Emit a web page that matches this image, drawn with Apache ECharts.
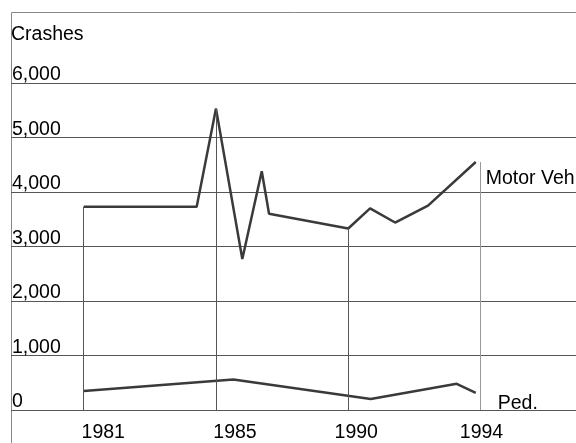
<!DOCTYPE html>
<html>
<head>
<meta charset="utf-8">
<script src="https://cdn.jsdelivr.net/npm/echarts@6/dist/echarts.min.js"></script>
<style>
  html, body { margin: 0; padding: 0; background: #fff; }
  #chart { width: 576px; height: 443px; }
</style>
</head>
<body>
<div id="chart"></div>
<script>
// Tick labels; x positions below are in tick units (0 = 1981, 1 = 1985, 2 = 1990, 3 = 1994)
const years = ['1981', '1985', '1990', '1994'];

// Motor vehicle crashes
const motorX = [0, 0.854, 1.0, 1.199, 1.346, 1.401, 2.0, 2.165, 2.354, 2.603, 2.964];
const motorY = [3730, 3730, 5530, 2770, 4380, 3600, 3330, 3700, 3440, 3750, 4550];

// Pedestrian crashes
const pedX = [0, 1.131, 2.17, 2.82, 2.964];
const pedY = [350, 560, 200, 480, 315];

const font = "'Liberation Sans', Arial, sans-serif";
const fs = 19.5;

var chartDom = document.getElementById('chart');
var myChart = echarts.init(chartDom);
var option;

// drop lines from the motor line down to 0 at each labelled year
var drops = years.map(function (y, i) {
  var best = 0;
  motorX.forEach(function (x, j) {
    if (Math.abs(x - i) < Math.abs(motorX[best] - i)) best = j;
  });
  return [
    { coord: [i, motorY[best]], lineStyle: { color: i == 3 ? '#999' : '#555' } },
    { coord: [i, 0] }
  ];
});

// nudge each year label a bit to the right, like the original
const labelShift = [39, 38, 16, 2];

option = {
  animation: false,
  grid: {
    left: 11,
    top: 83,
    bottom: 33,
    width: 574,
    containLabel: false,
    outerBoundsMode: 'none'
  },
  graphic: [
    {
      type: 'rect',
      shape: { x: 11.5, y: 12.5, width: 700, height: 500 },
      style: { fill: 'none', stroke: '#888', lineWidth: 1 },
      z: 0
    }
  ],
  xAxis: {
    type: 'value',
    min: -0.55,
    max: 3.79,
    axisLine: { show: false, onZero: false },
    axisTick: { show: false },
    splitLine: { show: false },
    axisLabel: {
      customValues: [0, 1, 2, 3],
      margin: 13,
      color: '#000',
      fontFamily: font,
      fontSize: fs,
      formatter: function (v) {
        var i = Math.round(v);
        return '{l' + i + '|' + years[i] + '}';
      },
      rich: {
        l0: { padding: [0, 0, 0, labelShift[0]], fontFamily: font, fontSize: fs },
        l1: { padding: [0, 0, 0, labelShift[1]], fontFamily: font, fontSize: fs },
        l2: { padding: [0, 0, 0, labelShift[2]], fontFamily: font, fontSize: fs },
        l3: { padding: [0, 0, 0, labelShift[3]], fontFamily: font, fontSize: fs }
      }
    }
  },
  yAxis: {
    type: 'value',
    min: 0,
    max: 6000,
    interval: 1000,
    name: 'Crashes',
    nameLocation: 'end',
    nameGap: 38,
    nameTextStyle: {
      align: 'left',
      verticalAlign: 'bottom',
      color: '#000',
      fontFamily: font,
      fontSize: fs
    },
    axisLine: { show: false, onZero: false },
    axisTick: { show: false },
    splitLine: { lineStyle: { color: '#555', width: 1 } },
    axisLabel: {
      inside: true,
      align: 'left',
      verticalAlign: 'bottom',
      lineHeight: 16,
      margin: 1,
      color: '#000',
      fontFamily: font,
      fontSize: fs,
      formatter: function (v) { return v.toLocaleString('en-US'); }
    }
  },
  series: [
    {
      name: 'Motor Veh',
      type: 'line',
      data: motorX.map(function (x, i) { return [x, motorY[i]]; }),
      symbol: 'none',
      lineStyle: { color: '#3a3a3a', width: 2.5 },
      endLabel: {
        show: true,
        formatter: 'Motor Veh',
        offset: [2, 17],
        color: '#000',
        fontFamily: font,
        fontSize: fs
      },
      markLine: {
        silent: true,
        symbol: 'none',
        label: { show: false },
        lineStyle: { type: 'solid', width: 1 },
        data: drops
      },
      z: 3
    },
    {
      name: 'Ped.',
      type: 'line',
      data: pedX.map(function (x, i) { return [x, pedY[i]]; }),
      symbol: 'none',
      lineStyle: { color: '#3a3a3a', width: 2.5 },
      endLabel: {
        show: true,
        formatter: 'Ped.',
        offset: [14, 11],
        color: '#000',
        fontFamily: font,
        fontSize: fs
      },
      z: 3
    }
  ]
};

option && myChart.setOption(option);
</script>
</body>
</html>
